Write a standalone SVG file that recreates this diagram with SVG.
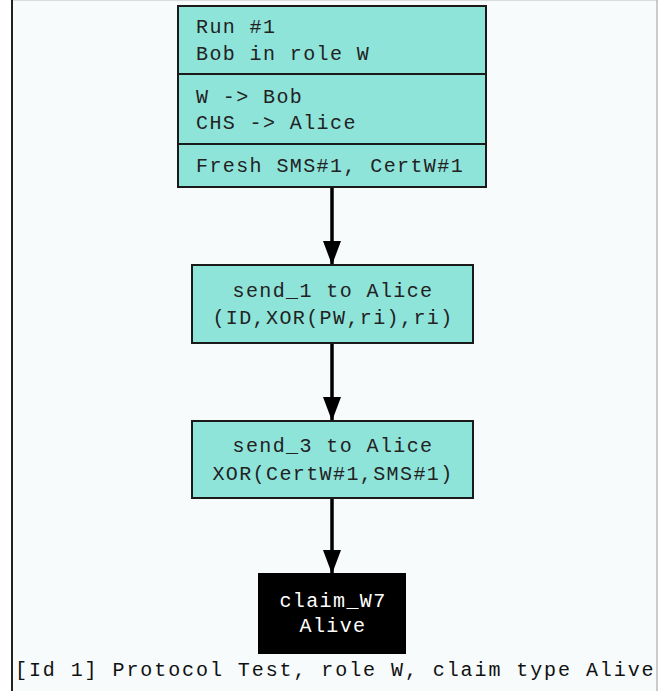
<svg xmlns="http://www.w3.org/2000/svg" width="668" height="691" viewBox="0 0 668 691">
  <style>
    .node { fill: #8fe4da; stroke: #1a1a1a; stroke-width: 2; }
    .claim { fill: #000000; stroke: #000000; stroke-width: 2; }
    .div { stroke: #1a1a1a; stroke-width: 2; }
    text { font-family: "Liberation Mono", "Courier New", monospace; font-size: 20px; letter-spacing: 1.4px; fill: #222222; }
    .c { text-anchor: middle; }
    .w { fill: #ffffff; }
    .edge { stroke: #000000; stroke-width: 3.5; fill: none; }
  </style>
  <defs>
    <marker id="arrow" markerUnits="userSpaceOnUse" markerWidth="26" markerHeight="20" refX="24" refY="9" orient="auto">
      <path d="M0,0 L24,9 L0,18 Z" fill="#000000"/>
    </marker>
  </defs>

  <!-- page background and frame -->
  <rect x="0" y="0" width="668" height="691" fill="#ffffff"/>
  <rect x="12" y="0" width="645" height="691" fill="#f7fbfc"/>
  <line x1="12" y1="0.5" x2="657" y2="0.5" stroke="#d8dcdc" stroke-width="1"/>
  <line x1="12" y1="0" x2="12" y2="691" stroke="#222222" stroke-width="2"/>
  <line x1="657" y1="0" x2="657" y2="691" stroke="#9a9a9a" stroke-width="1"/>

  <!-- connectors -->
  <g id="edges">
    <line class="edge" x1="332" y1="187" x2="332" y2="265" marker-end="url(#arrow)"/>
    <line class="edge" x1="332" y1="343" x2="332" y2="421" marker-end="url(#arrow)"/>
    <line class="edge" x1="332" y1="498" x2="332" y2="574" marker-end="url(#arrow)"/>
  </g>

  <!-- run header record -->
  <g id="run1">
    <rect class="node" x="178" y="6" width="308" height="181"/>
    <line class="div" x1="178" y1="74" x2="486" y2="74"/>
    <line class="div" x1="178" y1="144" x2="486" y2="144"/>
    <text x="196" y="33">Run #1</text>
    <text x="196" y="60">Bob in role W</text>
    <text x="196" y="103">W -&gt; Bob</text>
    <text x="196" y="129">CHS -&gt; Alice</text>
    <text x="196" y="172">Fresh SMS#1, CertW#1</text>
  </g>

  <g id="send1">
    <rect class="node" x="192" y="265" width="281" height="78"/>
    <text class="c" x="333" y="297">send_1 to Alice</text>
    <text class="c" x="333" y="324">(ID,XOR(PW,ri),ri)</text>
  </g>

  <g id="send3">
    <rect class="node" x="192" y="421" width="281" height="77"/>
    <text class="c" x="333" y="452">send_3 to Alice</text>
    <text class="c" x="333" y="480">XOR(CertW#1,SMS#1)</text>
  </g>

  <g id="claim">
    <rect class="claim" x="259" y="574" width="146" height="79"/>
    <text class="c w" x="333" y="607">claim_W7</text>
    <text class="c w" x="333" y="632">Alive</text>
  </g>

  <text x="15" y="676" textLength="640" lengthAdjust="spacing" style="fill:#111111">[Id 1] Protocol Test, role W, claim type Alive</text>
</svg>
